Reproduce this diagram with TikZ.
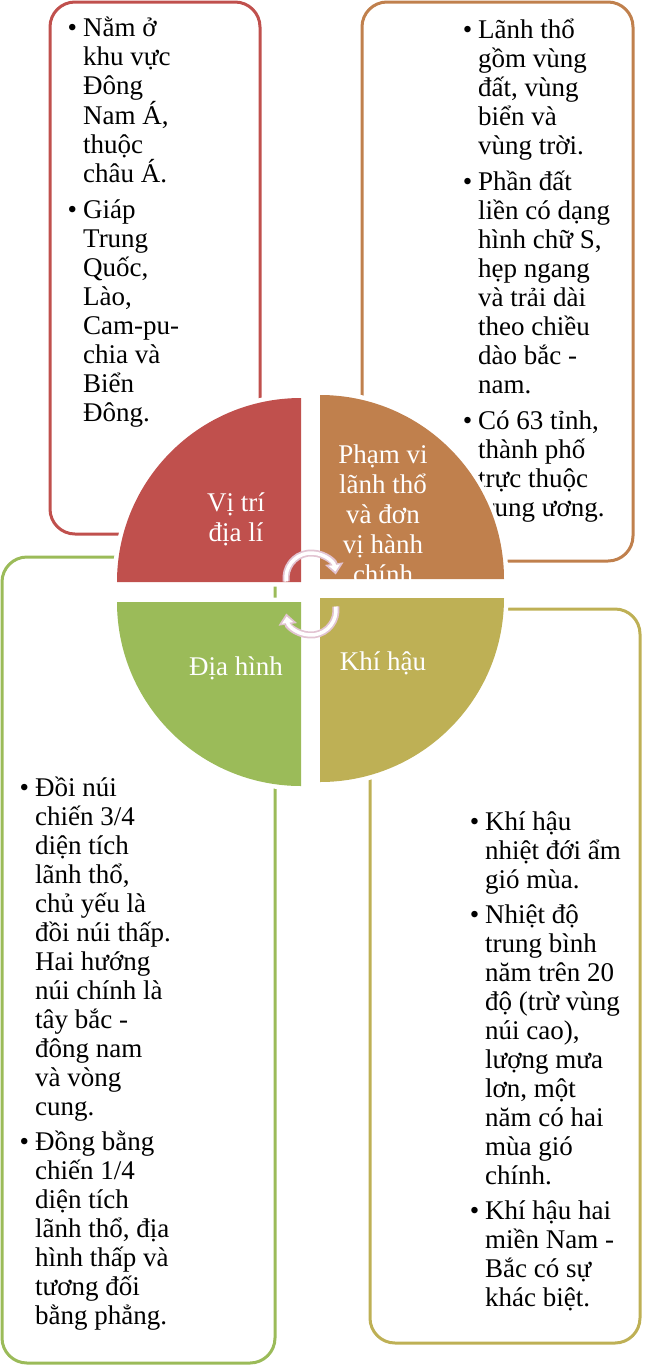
\documentclass[tikz,border=0pt]{standalone}
\usepackage{fontspec}
\setmainfont{Liberation Serif}
\usetikzlibrary{calc, arrows.meta}
\definecolor{qred}{RGB}{192,80,77}
\definecolor{qorange}{RGB}{192,128,77}
\definecolor{qolive}{RGB}{190,176,85}
\definecolor{qgreen}{RGB}{155,187,89}
\definecolor{cyclepink}{RGB}{226,196,210}
\tikzset{>=latex}
\newcommand{\bul}{\llap{\textbullet\hspace{6pt}}}

\begin{document}
\begin{tikzpicture}[x=1pt, y=-1pt,
  box/.style={line width=3pt, rounded corners=25pt},
  notetext/.style={anchor=base west, align=left, inner sep=0pt, font=\fontsize{27}{29}\selectfont},
  quad/.style={preaction={draw=white, line width=9pt}},
  quadtext/.style={anchor=base, align=center, inner sep=0pt, text=white, font=\fontsize{27}{30}\selectfont},
  cycleout/.style={draw=cyclepink, line width=7pt, -{Triangle[width=18pt, length=11pt]}},
  cyclein/.style={draw=white, line width=3.5pt, shorten >=3pt, -{Triangle[width=11pt, length=6.5pt]}}]
\useasboundingbox (0,0) rectangle (645,1369);

% boxes behind the circle
\draw[box, qred] (50,2) rectangle (260,534);
\draw[box, qorange] (362,2) rectangle (633,561);
\draw[box, qgreen] (2,557) rectangle (275,1363);
\draw[box, qolive] (370,609) rectangle (640,1343);

% notes, placed by the baseline of their last line
\node[notetext] (vitrinote) at (83,421) {\bul Nằm ở\\ khu vực\\ Đông\\ Nam Á,\\ thuộc\\ châu Á.\\[7pt]
  \bul Giáp\\ Trung\\ Quốc,\\ Lào,\\ Cam-pu-\\ chia và\\ Biển\\ Đông.};
\node[notetext] (phamvinote) at (478,516) {\bul Lãnh thổ\\ gồm vùng\\ đất, vùng\\ biển và\\ vùng trời.\\[7pt]
  \bul Phần đất\\ liền có dạng\\ hình chữ S,\\ hẹp ngang\\ và trải dài\\ theo chiều\\ dào bắc -\\ nam.\\[7pt]
  \bul Có 63 tỉnh,\\ thành phố\\ trực thuộc\\ trung ương.};
\node[notetext] (diahinhnote) at (35,1324) {\bul Đồi núi\\ chiến 3/4\\ diện tích\\ lãnh thổ,\\ chủ yếu là\\ đồi núi thấp.\\ Hai hướng\\ núi chính là\\ tây bắc -\\ đông nam\\ và vòng\\ cung.\\[6pt]
  \bul Đồng bằng\\ chiến 1/4\\ diện tích\\ lãnh thổ, địa\\ hình thấp và\\ tương đối\\ bằng phẳng.};
\node[notetext] (khihaunote) at (485,1306) {\bul Khí hậu\\ nhiệt đới ẩm\\ gió mùa.\\[6pt]
  \bul Nhiệt độ\\ trung bình\\ năm trên 20\\ độ (trừ vùng\\ núi cao),\\ lượng mưa\\ lơn, một\\ năm có hai\\ mùa gió\\ chính.\\[6pt]
  \bul Khí hậu hai\\ miền Nam -\\ Bắc có sự\\ khác biệt.};

% four quadrants
\fill[quad, qred] (301,582) -- (117,582) arc[start angle=180, end angle=270, radius=184] -- cycle;
\fill[quad, qorange] (320,579) -- (320,395) arc[start angle=270, end angle=360, radius=184] -- cycle;
\fill[quad, qgreen] (301,602) -- (117,602) arc[start angle=180, end angle=90, radius=184] -- cycle;
\fill[quad, qolive] (320,598) -- (504,598) arc[start angle=0, end angle=90, radius=184] -- cycle;

\node[quadtext] (vitri) at (236,541) {Vị trí\\ địa lí};
\begin{scope}
  \clip (320,579) -- (320,395) arc[start angle=270, end angle=360, radius=184] -- cycle;
  \node[quadtext] (phamvi) at (383,583) {Phạm vi\\ lãnh thổ\\ và đơn\\ vị hành\\ chính};
\end{scope}
\node[quadtext] (diahinh) at (236,675) {Địa hình};
\node[quadtext] (khihau) at (383,670) {Khí hậu};

% cycle arrows in the middle
\coordinate (topc) at (311,578);
\coordinate (botc) at (311,610);
\draw[cycleout] ($(topc)+(172:25)$) arc[start angle=172, end angle=352, radius=25];
\draw[cyclein] ($(topc)+(172:25)$) arc[start angle=172, end angle=352, radius=25];
\draw[cycleout] ($(botc)+(-8:25)$) arc[start angle=-8, end angle=172, radius=25];
\draw[cyclein] ($(botc)+(-8:25)$) arc[start angle=-8, end angle=172, radius=25];
\end{tikzpicture}
\end{document}
